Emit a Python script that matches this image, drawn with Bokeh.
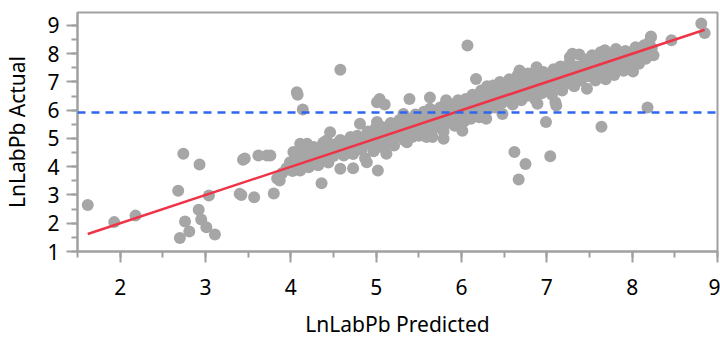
from bokeh.plotting import figure
from bokeh.models import Range1d, Span, SingleIntervalTicker, ColumnDataSource
from bokeh.embed import file_html
from bokeh.resources import INLINE

# Outliers (predicted, actual)
out_x = [1.62, 1.93, 2.18, 2.74, 2.93, 2.68, 3.04, 2.92, 2.76, 2.81, 2.70, 2.95, 3.01, 3.11,
         3.44, 3.62, 3.72, 3.76, 3.40, 3.42, 3.57, 3.80, 3.84, 4.07, 4.08, 4.14, 4.58, 6.07,
         5.01, 5.04, 5.10, 5.39, 5.63, 5.82, 4.36, 5.02, 6.99, 6.62, 6.75, 7.04, 6.67, 7.64,
         8.18, 8.81, 8.85, 8.46, 8.22, 6.01, 5.79, 3.46, 4.03]
out_y = [2.65, 2.04, 2.27, 4.46, 4.08, 3.15, 2.98, 2.48, 2.06, 1.71, 1.48, 2.13, 1.86, 1.60,
         4.25, 4.40, 4.40, 4.40, 3.04, 3.00, 2.92, 3.05, 3.58, 6.64, 6.55, 6.03, 7.43, 8.29,
         6.28, 6.40, 6.20, 6.40, 6.45, 6.35, 3.42, 3.87, 5.58, 4.52, 4.10, 4.37, 3.55, 5.42,
         6.10, 9.07, 8.73, 8.48, 8.58, 5.27, 4.99, 4.29, 4.52]

# Main band (predicted, actual)
band = [
    (3.87, 3.51), (3.90, 3.78), (3.95, 3.95), (3.99, 4.16), (4.02, 3.85), (4.05, 4.22),
    (4.08, 4.45), (4.11, 4.81), (4.11, 3.87), (4.13, 4.05), (4.15, 4.60), (4.17, 4.30),
    (4.19, 4.81), (4.21, 3.98), (4.23, 4.55), (4.25, 4.18), (4.27, 4.70), (4.30, 4.40),
    (4.32, 4.05), (4.34, 4.62), (4.36, 4.28), (4.38, 4.85), (4.40, 4.50), (4.42, 4.93),
    (4.44, 4.15), (4.46, 5.22), (4.48, 4.62), (4.50, 4.38), (4.52, 4.80), (4.55, 4.55),
    (4.58, 3.93), (4.58, 4.95), (4.60, 4.68), (4.62, 4.40), (4.65, 4.85), (4.68, 4.60),
    (4.70, 5.05), (4.73, 3.95), (4.73, 4.45), (4.75, 4.75), (4.78, 5.10), (4.80, 4.90),
    (4.81, 5.52), (4.83, 4.60), (4.85, 5.00), (4.87, 4.30), (4.89, 4.16), (4.90, 5.25),
    (4.92, 4.80), (4.95, 5.05), (4.97, 4.55), (4.99, 5.35), (5.01, 5.58), (5.02, 4.90),
    (5.04, 5.15), (5.06, 4.70), (5.08, 5.40), (5.10, 5.00), (5.12, 4.46), (5.12, 5.25),
    (5.15, 4.85), (5.17, 5.55), (5.19, 5.10), (5.21, 4.75), (5.23, 5.35), (5.25, 5.05),
    (5.27, 5.65), (5.29, 5.20), (5.32, 5.87), (5.33, 4.95), (5.35, 5.45), (5.36, 4.87),
    (5.38, 5.70), (5.40, 5.25), (5.42, 5.05), (5.44, 5.55), (5.46, 5.85), (5.48, 5.30),
    (5.50, 5.10), (5.52, 5.65), (5.54, 5.40), (5.56, 5.95), (5.58, 5.20), (5.59, 5.05),
    (5.60, 5.75), (5.62, 5.50), (5.63, 6.05), (5.65, 5.30), (5.66, 5.05), (5.68, 5.85),
    (5.70, 5.60), (5.71, 5.99), (5.73, 5.40), (5.75, 6.10), (5.77, 5.75), (5.79, 5.25),
    (5.80, 6.00), (5.82, 6.28), (5.84, 5.55), (5.86, 5.90), (5.88, 6.20), (5.90, 5.70),
    (5.92, 5.45), (5.94, 6.05), (5.96, 6.35), (5.98, 5.80), (6.00, 6.15), (6.03, 5.60),
    (6.05, 6.40), (6.07, 5.95), (6.09, 6.25), (6.11, 5.70), (6.13, 6.55), (6.15, 6.10),
    (6.17, 7.11), (6.18, 6.40), (6.20, 5.95), (6.21, 5.75), (6.23, 6.70), (6.25, 6.20),
    (6.27, 6.50), (6.29, 5.70), (6.30, 6.85), (6.32, 6.05), (6.34, 6.60), (6.36, 6.30),
    (6.37, 6.88), (6.39, 6.10), (6.41, 6.75), (6.43, 6.45), (6.45, 7.00), (6.47, 6.25),
    (6.48, 5.87), (6.50, 6.65), (6.52, 6.95), (6.54, 6.40), (6.56, 7.10), (6.58, 6.80),
    (6.60, 6.20), (6.62, 6.95), (6.64, 6.55), (6.66, 7.25), (6.68, 7.41), (6.68, 6.70),
    (6.70, 6.35), (6.72, 7.05), (6.74, 6.85), (6.76, 6.50), (6.78, 7.30), (6.80, 6.95),
    (6.82, 6.65), (6.84, 7.20), (6.86, 6.40), (6.88, 7.52), (6.89, 6.23), (6.90, 6.80),
    (6.92, 7.10), (6.94, 6.60), (6.96, 7.35), (6.98, 6.95), (7.00, 6.75), (7.02, 7.25),
    (7.04, 7.05), (7.06, 6.55), (7.08, 7.45), (7.10, 6.28), (7.11, 6.17), (7.12, 6.90),
    (7.14, 7.20), (7.16, 7.55), (7.18, 6.70), (7.20, 7.05), (7.22, 7.35), (7.24, 6.95),
    (7.26, 7.65), (7.27, 7.88), (7.28, 7.15), (7.30, 8.00), (7.32, 6.85), (7.34, 7.45),
    (7.36, 7.25), (7.38, 7.97), (7.40, 7.05), (7.42, 7.60), (7.44, 7.35), (7.46, 7.80),
    (7.47, 6.76), (7.49, 7.20), (7.51, 7.55), (7.53, 7.95), (7.55, 7.40), (7.57, 7.05),
    (7.59, 7.70), (7.61, 7.30), (7.63, 8.05), (7.65, 7.50), (7.67, 7.85), (7.68, 8.12),
    (7.69, 7.10), (7.71, 7.65), (7.73, 7.40), (7.75, 7.95), (7.77, 7.60), (7.79, 7.25),
    (7.81, 8.17), (7.82, 7.80), (7.84, 7.50), (7.86, 8.00), (7.88, 7.70), (7.90, 7.40),
    (7.92, 8.10), (7.94, 7.85), (7.96, 7.60), (7.98, 8.05), (8.01, 7.37), (8.02, 7.75),
    (8.04, 8.23), (8.06, 7.95), (8.08, 7.65), (8.10, 8.15), (8.12, 7.90), (8.14, 8.30),
    (8.16, 7.82), (8.18, 8.05), (8.20, 8.40), (8.22, 8.61), (8.23, 8.20), (8.25, 7.95),
    (4.45, 4.45), (4.55, 4.70), (4.65, 4.65), (4.75, 4.90), (4.85, 4.85), (4.95, 5.00),
    (5.05, 5.05), (5.15, 5.15), (5.25, 5.30), (5.35, 5.30), (5.45, 5.45), (5.55, 5.60),
    (5.65, 5.65), (5.75, 5.80), (5.85, 5.80), (5.95, 5.95), (6.05, 6.10), (6.15, 6.20),
    (6.25, 6.35), (6.35, 6.45), (6.45, 6.55), (6.55, 6.60), (6.65, 6.85), (6.75, 6.75),
    (6.85, 6.95), (6.95, 7.10), (7.05, 7.15), (7.15, 7.30), (7.25, 7.40), (7.35, 7.55),
    (7.45, 7.55), (7.55, 7.70), (7.65, 7.75), (7.75, 7.80), (7.85, 7.90), (7.95, 7.95),
    (8.05, 8.05),
]
band_x = [b[0] for b in band]
band_y = [b[1] for b in band]

pred = out_x + band_x
actual = out_y + band_y

fit_x = [1.62, 8.85]
fit_y = [1.62, 8.85]
mean_actual = 5.92

x_ticks_interval = 1
y_ticks_interval = 1

FONT = "Noto Sans"
GRAY = "#a6a6a6"
AXC = "#a0a0a0"

p = figure(frame_width=640, frame_height=239, output_backend="svg", toolbar_location=None,
           x_range=Range1d(1.5, 9.0), y_range=Range1d(1.0, 9.46),
           min_border_left=77, min_border_right=3, min_border_top=12, min_border_bottom=88)
p.background_fill_color = "white"
p.border_fill_color = "white"
p.outline_line_color = AXC
p.outline_line_width = 2
p.xgrid.visible = False
p.ygrid.visible = False

src = ColumnDataSource(dict(x=pred, y=actual))
p.scatter("x", "y", source=src, size=12, fill_color=GRAY, line_color=None)
p.line(fit_x, fit_y, line_color="#ee3447", line_width=2.5)
p.add_layout(Span(location=mean_actual, dimension="width", line_color="#2f66f0",
                  line_width=2.5, line_dash="8 6"))

p.xaxis.ticker = SingleIntervalTicker(interval=x_ticks_interval, num_minor_ticks=2)
p.yaxis.ticker = SingleIntervalTicker(interval=y_ticks_interval, num_minor_ticks=2)
for ax in (p.xaxis[0], p.yaxis[0]):
    ax.axis_line_color = AXC
    ax.axis_line_width = 2
    ax.major_tick_line_color = AXC
    ax.major_tick_line_width = 2
    ax.minor_tick_line_color = AXC
    ax.minor_tick_line_width = 2
    ax.major_tick_out = 11
    ax.major_tick_in = 0
    ax.minor_tick_out = 6
    ax.minor_tick_in = 0
    ax.major_label_text_font = FONT
    ax.major_label_text_font_size = "21px"
    ax.major_label_text_color = "black"
    ax.axis_label_text_font = FONT
    ax.axis_label_text_font_size = "21px"
    ax.axis_label_text_font_style = "normal"
    ax.axis_label_text_color = "black"

p.xaxis.axis_label = "LnLabPb Predicted"
p.yaxis.axis_label = "LnLabPb Actual"
p.xaxis.major_label_standoff = 16
p.xaxis.axis_label_standoff = 12
p.yaxis.major_label_standoff = 7
p.yaxis.axis_label_standoff = 13

open("out.html", "w").write(file_html(p, INLINE))
